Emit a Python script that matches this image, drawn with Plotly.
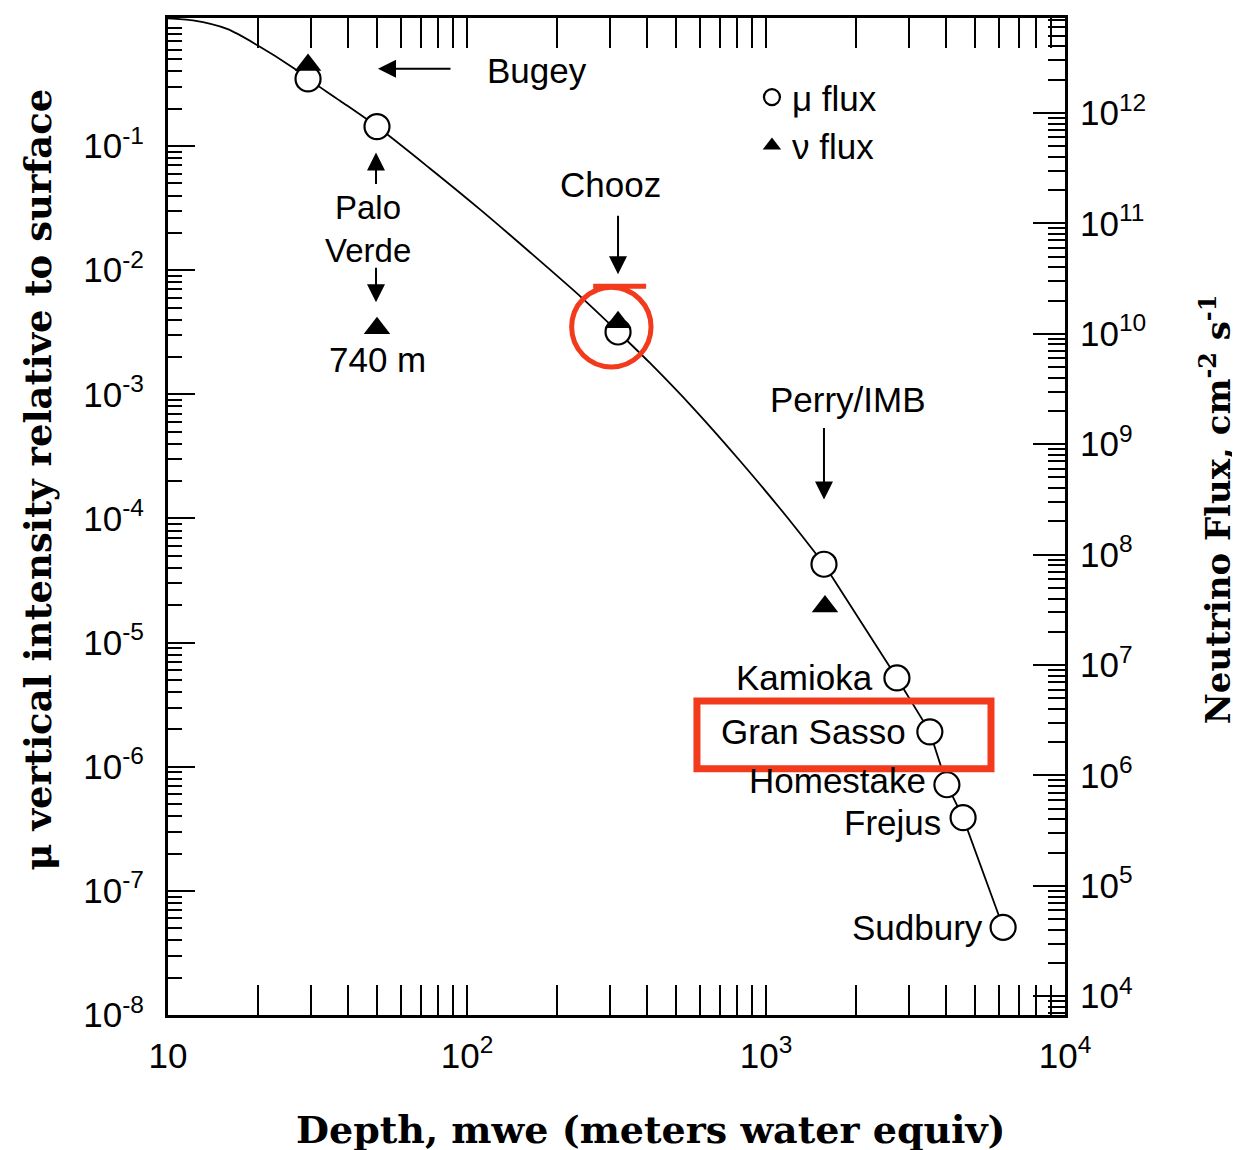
import math
import plotly.graph_objects as go

# ---------------- data ----------------
# smooth part of the depth-intensity curve (surface down to Perry/IMB)
curve_depth = [10, 12.12, 15.75, 19.85, 26.2, 29.4, 37.6, 50.0, 75.2, 110.5, 162.4, 238.8,
               320, 409, 570, 818, 1114, 1436, 1563]
curve_intensity = [1.07, 1.028, 0.879, 0.653, 0.428, 0.348, 0.232, 0.1436, 0.0660, 0.0309,
                   0.01395, 0.00618, 0.00318, 0.00179, 7.79e-4, 2.92e-4, 1.203e-4, 5.58e-5,
                   4.28e-5]

mu_sites = ["Bugey", "Palo Verde", "Chooz", "Perry/IMB", "Kamioka", "Gran Sasso",
            "Homestake", "Frejus", "Sudbury"]
mu_depth = [29.4, 50.0, 320, 1563, 2741, 3532, 4027, 4562, 6209]
mu_intensity = [0.348, 0.1436, 0.00318, 4.28e-5, 5.19e-6, 1.91e-6, 7.16e-7, 3.89e-7, 5.09e-8]

nu_sites = ["Bugey", "Palo Verde 740 m", "Chooz", "Perry/IMB"]
nu_depth = [29.4, 50.0, 320, 1575]
nu_flux = [2.72e12, 1.12e10, 1.27e10, 3.38e7]

x_tickvals = [10, 100, 1000, 10000]
x_ticktext = ["10", "10<sup>2</sup>", "10<sup>3</sup>", "10<sup>4</sup>"]
yl_exps = [-1, -2, -3, -4, -5, -6, -7, -8]
yr_exps = [12, 11, 10, 9, 8, 7, 6, 5, 4]

# deep sites: line runs straight from one site to the next
deep_sites = ["Perry/IMB", "Kamioka", "Gran Sasso", "Homestake", "Frejus", "Sudbury"]
# site labels drawn to the left of their circles
side_labels = ["Kamioka", "Gran Sasso", "Homestake", "Frejus", "Sudbury"]

FONT = "Liberation Sans"
SERIF = "DejaVu Serif"

fig = go.Figure()

fig.add_trace(go.Scatter(x=curve_depth, y=curve_intensity, mode="lines",
                         line=dict(color="black", width=1.8, shape="spline", smoothing=0.8),
                         showlegend=False, hoverinfo="skip"))
deep_idx = [mu_sites.index(s) for s in deep_sites]
fig.add_trace(go.Scatter(x=[mu_depth[i] for i in deep_idx],
                         y=[mu_intensity[i] for i in deep_idx], mode="lines",
                         line=dict(color="black", width=1.8), showlegend=False,
                         hoverinfo="skip"))
fig.add_trace(go.Scatter(x=mu_depth, y=mu_intensity, mode="markers", name="\u03bc flux",
                         text=mu_sites,
                         marker=dict(symbol="circle", size=25, color="white",
                                     line=dict(color="black", width=2.2))))
fig.add_trace(go.Scatter(x=nu_depth, y=nu_flux, mode="markers", name="\u03bd flux",
                         text=nu_sites, yaxis="y2",
                         marker=dict(symbol="triangle-up", size=23, color="black",
                                     line=dict(color="black", width=0))))


def minor_vals(lo, hi):
    return [m * 10.0 ** e for e in range(lo, hi) for m in range(2, 10)]


tickfont = dict(family=FONT, size=35, color="black")

fig.update_layout(
    width=1240, height=1150, autosize=False,
    margin=dict(l=160, r=183, t=7, b=143),
    plot_bgcolor="white", paper_bgcolor="white",
    showlegend=True,
    legend=dict(x=0.651, y=0.95, xanchor="left", yanchor="top",
                font=dict(family=FONT, size=35, color="black"),
                bgcolor="rgba(0,0,0,0)", tracegroupgap=0),
    xaxis=dict(type="log", range=[1, 4], showgrid=False, zeroline=False,
               showline=True, linecolor="black", linewidth=3, mirror="allticks",
               ticks="inside", ticklen=30, tickwidth=2, tickcolor="black",
               tickmode="array", tickvals=x_tickvals, ticktext=x_ticktext,
               tickfont=tickfont, ticklabelstandoff=8,
               minor=dict(tickmode="array", tickvals=minor_vals(1, 4), ticks="inside",
                          ticklen=16, tickwidth=2, tickcolor="black", showgrid=False)),
    yaxis=dict(type="log", range=[-8, 0.032], showgrid=False, zeroline=False,
               showline=True, linecolor="black", linewidth=3, mirror=True,
               ticks="inside", ticklen=27, tickwidth=2, tickcolor="black",
               tickmode="array", tickvals=[10.0 ** e for e in yl_exps],
               ticktext=["10<sup>%d</sup>" % e for e in yl_exps],
               tickfont=tickfont, ticklabelstandoff=14,
               minor=dict(tickmode="array", tickvals=minor_vals(-8, 0), ticks="inside",
                          ticklen=14, tickwidth=2, tickcolor="black", showgrid=False)),
    yaxis2=dict(type="log", range=[3.83, 12.86], overlaying="y", side="right",
                showgrid=False, zeroline=False, showline=True, linecolor="black",
                linewidth=3, ticks="inside", ticklen=32, tickwidth=2, tickcolor="black",
                tickmode="array", tickvals=[10.0 ** e for e in yr_exps],
                ticktext=["10<sup>%d</sup>" % e for e in yr_exps],
                tickfont=tickfont, ticklabelstandoff=5,
                minor=dict(tickmode="array", tickvals=minor_vals(3, 13), ticks="inside",
                           ticklen=17, tickwidth=2, tickcolor="black", showgrid=False)),
)

lab = dict(family=FONT, size=35, color="black")
lab_pv = dict(family=FONT, size=33, color="black")
C = dict(xanchor="center", yanchor="middle", showarrow=False)
ann = []
# axis titles
ann.append(dict(C, text="<b>Depth, mwe (meters water equiv)</b>", xref="paper", yref="paper",
                x=0.5385, y=-0.115, font=dict(family=SERIF, size=38, color="black")))
ann.append(dict(C, text="<b>\u03bc vertical intensity relative to surface</b>", xref="paper",
                yref="paper", x=-0.145, y=0.537, textangle=-90,
                font=dict(family=SERIF, size=37, color="black")))
ann.append(dict(C, text="<b>Neutrino Flux, cm<sup>-2</sup> s<sup>-1</sup></b>", xref="paper",
                yref="paper", x=1.168, y=0.507, textangle=-90,
                font=dict(family=SERIF, size=34, color="black")))
# text labels in the upper part
ann.append(dict(C, text="Bugey", xref="paper", yref="paper", x=0.3534, y=0.947,
                xanchor="left", font=lab))
ann.append(dict(C, text="Palo", xref="paper", yref="paper", x=0.223, y=0.810, font=lab_pv))
ann.append(dict(C, text="Verde", xref="paper", yref="paper", x=0.223, y=0.767, font=lab_pv))
ann.append(dict(C, text="740 m", xref="paper", yref="paper", x=0.234, y=0.657, font=lab))
ann.append(dict(C, text="Chooz", xref="paper", yref="paper", x=0.4928, y=0.833, font=lab))
ann.append(dict(C, text="Perry/IMB", xref="paper", yref="paper", x=0.758, y=0.617, font=lab))
# arrows
arr = dict(xref="paper", yref="paper", text="", showarrow=True, arrowhead=2,
           arrowsize=1.8, arrowwidth=2, arrowcolor="black", standoff=0)
ann.append(dict(arr, x=0.2341, y=0.949, ax=74, ay=0))
ann.append(dict(arr, x=0.2319, y=0.865, ax=0, ay=33))
ann.append(dict(arr, x=0.2319, y=0.715, ax=0, ay=-36))
ann.append(dict(arr, x=0.5017, y=0.743, ax=0, ay=-60))
ann.append(dict(arr, x=0.7313, y=0.517, ax=0, ay=-73))
# labels beside circles (tied to data)
shifts = {"Kamioka": (-22, 0), "Gran Sasso": (-22, 0), "Homestake": (-19, 4),
          "Frejus": (-20, -5), "Sudbury": (-18, 0)}
for name in side_labels:
    i = mu_sites.index(name)
    dx, dy = shifts[name]
    ann.append(dict(text=name, x=math.log10(mu_depth[i]), y=math.log10(mu_intensity[i]),
                    xref="x", yref="y", xanchor="right", yanchor="middle", showarrow=False,
                    xshift=dx, yshift=dy, font=lab))
fig.update_layout(annotations=ann)

RED = "#F23A1C"
fig.add_shape(type="rect", xref="paper", yref="paper", x0=0.5897, x1=0.9175, y0=0.247,
              y1=0.315, line=dict(color=RED, width=7))
fig.add_shape(type="circle", xref="paper", yref="paper", x0=0.450, x1=0.5385, y0=0.650,
              y1=0.730, line=dict(color=RED, width=5))
fig.add_shape(type="line", xref="paper", yref="paper", x0=0.474, x1=0.533, y0=0.731,
              y1=0.731, line=dict(color=RED, width=5))

fig.write_html("out.html")
